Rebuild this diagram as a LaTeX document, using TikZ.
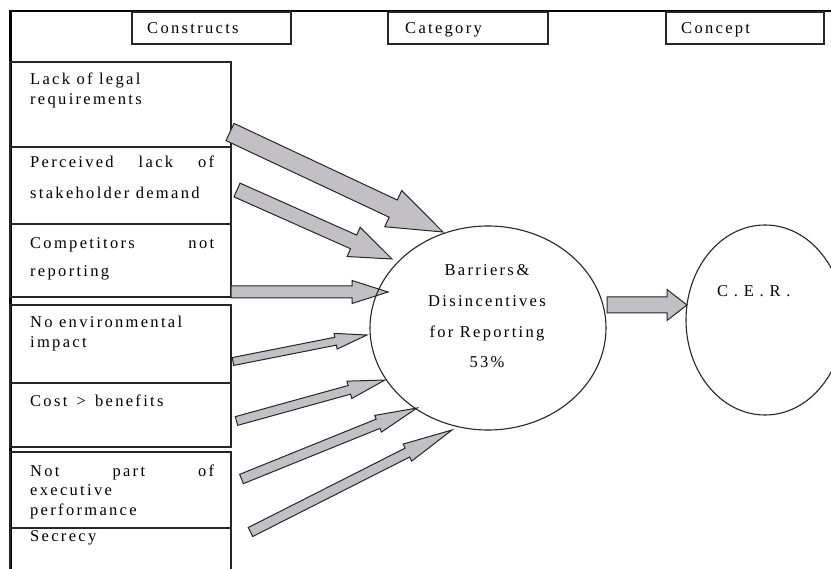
\documentclass[tikz,border=0pt]{standalone}
\usepackage{fontspec}
\setmainfont{Liberation Serif}[LetterSpace=14]
\usetikzlibrary{calc}
\definecolor{arrgray}{RGB}{194,192,196}
\tikzset{
  frame/.style={line width=2.6pt, black, line cap=rect},
  cbox/.style={draw=black!85, line width=1.3pt, inner sep=0pt, outer sep=0pt, anchor=north west},
  txt/.style={anchor=base west, inner sep=0pt, font=\fontsize{16.5}{19}\selectfont},
  ctxt/.style={anchor=base, inner sep=0pt, font=\fontsize{16.5}{19}\selectfont},
  blk/.style={draw=black!85, fill=arrgray, line width=1pt, line join=miter},
  ell/.style={draw=black!85, line width=1.1pt}
}
\newcommand\blkarrow[5]{%
  \coordinate (hb) at ($(#2)!#5!(#1)$);
  \draw[blk] ($(#1)!#3!90:(#2)$) -- ($(hb)!#3!90:(#2)$) -- ($(hb)!#4!90:(#2)$) -- (#2)
    -- ($(hb)!#4!-90:(#2)$) -- ($(hb)!#3!-90:(#2)$) -- ($(#1)!#3!-90:(#2)$) -- cycle;}
\begin{document}
\begin{tikzpicture}[x=1pt,y=-1pt]
\useasboundingbox (0,0) rectangle (831,569);
\fill[white] (0,0) rectangle (831,569);
% outer frame
\coordinate (fa) at (10.5,11);
\coordinate (fb) at (831,11);
\coordinate (fc) at (10.5,569);
\draw[frame] (fb) -- (fa) -- (fc);
% header boxes
\node[cbox, minimum width=159pt, minimum height=32pt] (hcon) at (132,12) {};
\node[cbox, minimum width=160pt, minimum height=32pt] (hcat) at (388,12) {};
\node[cbox, minimum width=158pt, minimum height=32pt] (hcep) at (666,12) {};
\node[txt] (thcon) at (147,34) {Constructs};
\node[txt] (thcat) at (405,34) {Category};
\node[txt] (thcep) at (681,34) {Concept};
% left column boxes
\node[cbox, minimum width=221pt, minimum height=85pt] (b1) at (10,62) {};
\node[cbox, minimum width=221pt, minimum height=77pt] (b2) at (10,147) {};
\node[cbox, minimum width=221pt, minimum height=73pt] (b3) at (10,224) {};
\node[cbox, minimum width=221pt, minimum height=78pt] (b4) at (10,305) {};
\node[cbox, minimum width=221pt, minimum height=64pt] (b5) at (10,383) {};
\node[cbox, minimum width=221pt, minimum height=76pt] (b6) at (10,452) {};
\node[cbox, minimum width=221pt, minimum height=60pt] (b7) at (10,528) {};
% texts
\node[txt] (l1a) at (30,85) {Lack of legal};
\node[txt] (l1b) at (30,105) {requirements};
\node[txt] (l2a) at (30,168) {\makebox[184pt][s]{Perceived lack of}};
\node[txt] (l2b) at (30,199) {stakeholder demand};
\node[txt] (l3a) at (30,249) {\makebox[184pt][s]{Competitors not}};
\node[txt] (l3b) at (30,277) {reporting};
\node[txt] (l4a) at (30,328) {No environmental};
\node[txt] (l4b) at (30,348) {impact};
\node[txt] (l5a) at (30,407) {Cost \,>\, benefits};
\node[txt] (l6a) at (30,477) {\makebox[184pt][s]{Not part of}};
\node[txt] (l6b) at (30,496) {executive};
\node[txt] (l6c) at (30,516) {performance};
\node[txt] (l7a) at (30,541) {Secrecy};
% arrows
\coordinate (t1) at (230,132); \coordinate (p1) at (443,232);
\coordinate (t2) at (237,190); \coordinate (p2) at (392,259);
\coordinate (t3) at (231,292); \coordinate (p3) at (388,292);
\coordinate (t4) at (233,361.5); \coordinate (p4) at (367,335);
\coordinate (t5) at (236.5,421); \coordinate (p5) at (385,380);
\coordinate (t6) at (241.5,479); \coordinate (p6) at (417,408);
\coordinate (t7) at (250.5,532); \coordinate (p7) at (452,430);
\coordinate (t8) at (607,305); \coordinate (p8) at (687,305);
\blkarrow{t1}{p1}{9.5pt}{20pt}{55pt}
\blkarrow{t2}{p2}{7.5pt}{16pt}{42pt}
\blkarrow{t3}{p3}{6pt}{11.5pt}{36pt}
\blkarrow{t4}{p4}{4pt}{8pt}{32pt}
\blkarrow{t5}{p5}{4.5pt}{9pt}{37pt}
\blkarrow{t6}{p6}{5pt}{9pt}{42pt}
\blkarrow{t7}{p7}{5pt}{9.5pt}{50pt}
\blkarrow{t8}{p8}{8pt}{15.5pt}{20pt}
% ellipses
\draw[ell] (488,328) ellipse [x radius=118, y radius=102];
\coordinate (bar) at (488,328);
\draw[ell] (765,320) ellipse [x radius=79, y radius=95];
\coordinate (cer) at (765,320);
\node[ctxt] (bt1) at (487,276) {Barriers\,\&};
\node[ctxt] (bt2) at (487,307) {Disincentives};
\node[ctxt] (bt3) at (487,338) {for Reporting};
\node[ctxt] (bt4) at (487,368) {53\%};
\node[txt, font=\fontsize{16.5}{19}\selectfont\addfontfeature{LetterSpace=35}] (ct) at (717,297) {C.E.R.};
\end{tikzpicture}
\end{document}
